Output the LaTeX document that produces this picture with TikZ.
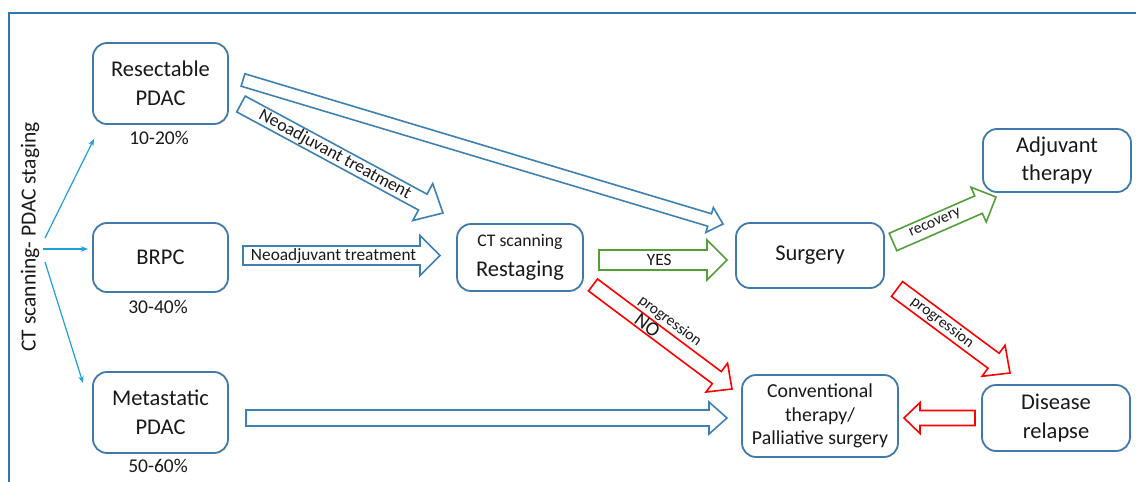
\documentclass[tikz,border=0pt]{standalone}
\usepackage{fontspec}
\setmainfont{Carlito}
\usetikzlibrary{calc,arrows.meta}
\definecolor{boxblue}{RGB}{65,122,170}
\definecolor{frameblue}{RGB}{46,117,182}
\definecolor{ablue}{RGB}{60,128,180}
\definecolor{thinblue}{RGB}{30,160,220}
\definecolor{agreen}{RGB}{84,158,58}
\definecolor{ared}{RGB}{255,0,0}
\definecolor{txt}{RGB}{25,25,25}
\newcommand\blockarrow[6]{%
  \coordinate (ba-n) at ($(#3)!#6!(#2)$);
  \draw[#1] ($(#2)!#4!90:(#3)$) -- ($(ba-n)!#4!90:(#3)$) -- ($(ba-n)!#5!90:(#3)$) -- (#3)
    -- ($(ba-n)!#5!-90:(#3)$) -- ($(ba-n)!#4!-90:(#3)$) -- ($(#2)!#4!-90:(#3)$) -- cycle;}
\tikzset{
  box/.style={draw=boxblue, line width=1.8pt, rounded corners=14pt, align=center,
    text=txt, inner sep=2pt, font=\fontsize{22.5}{28.5}\selectfont},
  pct/.style={text=txt, font=\fontsize{19.5}{22}\selectfont, inner sep=0pt},
  thinarrow/.style={draw=thinblue, line width=1.2pt, -{Stealth[length=7pt,width=5.5pt]}},
  barrow/.style={line width=1.6pt, line join=miter, fill=white},
  alabel/.style={text=txt, inner sep=0pt, font=\fontsize{17.3}{19}\selectfont},
  slabel/.style={text=txt, inner sep=0pt, font=\fontsize{15.6}{17}\selectfont},
}
\begin{document}
\begin{tikzpicture}[x=1pt,y=-1pt]
\useasboundingbox (0,0) rectangle (1136,482);
\fill[white] (0,0) rectangle (1136,482);
% frame
\draw[frameblue, line width=2pt] (1136,13) -- (9,13) -- (9,482);
% vertical title
\node[rotate=90, text=txt, font=\fontsize{21.5}{24}\selectfont, inner sep=0pt] (title) at (30,237) {CT scanning- PDAC staging};
% boxes
\node[box, minimum width=135pt, minimum height=81pt] (res) at (160.5,83.5) {Resectable\\PDAC};
\node[box, minimum width=135pt, minimum height=69pt] (brpc) at (160.5,257.5) {BRPC};
\node[box, minimum width=135pt, minimum height=81pt] (meta) at (160.5,412.5) {Metastatic\\PDAC};
\node[box, minimum width=126pt, minimum height=67pt] (rest) at (520,257.5) {{\fontsize{17.7}{20}\selectfont CT scanning}\\[1pt]Restaging};
\node[box, minimum width=148pt, minimum height=65pt] (surg) at (810,255.5) {Surgery};
\node[box, minimum width=148pt, minimum height=63pt] (adj) at (1057,160.5) {Adjuvant\\therapy};
\node[box, minimum width=156pt, minimum height=82pt, font=\fontsize{19.8}{23.5}\selectfont] (conv) at (820,416) {Conventional\\therapy/\\Palliative surgery};
\node[box, minimum width=148pt, minimum height=66pt] (rel) at (1056,418) {Disease\\relapse};
% percentages
\node[pct] (p1) at (159,138) {10-20\%};
\node[pct] (p2) at (158,307) {30-40\%};
\node[pct] (p3) at (158,466) {50-60\%};
% thin arrows
\coordinate (t1s) at (45,238); \coordinate (t1e) at (94,139);
\coordinate (t2s) at (43,249); \coordinate (t2e) at (88,249);
\coordinate (t3s) at (45,262); \coordinate (t3e) at (83,383);
\draw[thinarrow] (t1s) -- (t1e);
\draw[thinarrow] (t2s) -- (t2e);
\draw[thinarrow] (t3s) -- (t3e);
% block arrow end points
\coordinate (a1s) at (243,80);   \coordinate (a1e) at (723,224);
\coordinate (a2s) at (241,104);  \coordinate (a2e) at (443,213);
\coordinate (a3s) at (243,255.5);\coordinate (a3e) at (440,255.5);
\coordinate (a4s) at (599,260);  \coordinate (a4e) at (727,260);
\coordinate (a5s) at (593,285);  \coordinate (a5e) at (732,389);
\coordinate (a6s) at (893,242);  \coordinate (a6e) at (996,197);
\coordinate (a7s) at (897,289);  \coordinate (a7e) at (1010,373);
\coordinate (a8s) at (975,418);  \coordinate (a8e) at (904,418);
\coordinate (a9s) at (246,418);  \coordinate (a9e) at (727,418);
\blockarrow{barrow, draw=ablue}{a1s}{a1e}{6.5pt}{13pt}{14pt}
\blockarrow{barrow, draw=ablue}{a2s}{a2e}{9pt}{21pt}{23pt}
\blockarrow{barrow, draw=ablue}{a3s}{a3e}{9.5pt}{20pt}{20pt}
\blockarrow{barrow, draw=agreen}{a4s}{a4e}{10pt}{20pt}{20pt}
\blockarrow{barrow, draw=ared}{a5s}{a5e}{7.5pt}{18pt}{19pt}
\blockarrow{barrow, draw=agreen}{a6s}{a6e}{9.5pt}{19pt}{19pt}
\blockarrow{barrow, draw=ared}{a7s}{a7e}{9.3pt}{19.3pt}{20.5pt}
\blockarrow{barrow, draw=ared}{a8s}{a8e}{7.5pt}{15.5pt}{16pt}
\blockarrow{barrow, draw=ablue}{a9s}{a9e}{8pt}{16pt}{18pt}
% arrow labels
\path (a2s) -- (a2e) node[alabel, font=\fontsize{17.8}{19}\selectfont, pos=0.465, sloped] (l2) {Neoadjuvant treatment};
\path (a3s) -- (a3e) node[alabel, pos=0.46] (l3) {Neoadjuvant treatment};
\path (a4s) -- (a4e) node[alabel, pos=0.47] (l4) {YES};
\path (a5s) -- (a5e) node[slabel, pos=0.48, sloped, above=10pt] (l5a) {progression};
\path (a5s) -- (a5e) node[text=txt, inner sep=0pt, font=\fontsize{20}{22}\selectfont, pos=0.39, sloped, below=-7pt] (l5b) {NO};
\path (a6s) -- (a6e) node[slabel, pos=0.41, sloped] (l6) {recovery};
\path (a7s) -- (a7e) node[slabel, pos=0.4, sloped] (l7) {progression};
\end{tikzpicture}
\end{document}
